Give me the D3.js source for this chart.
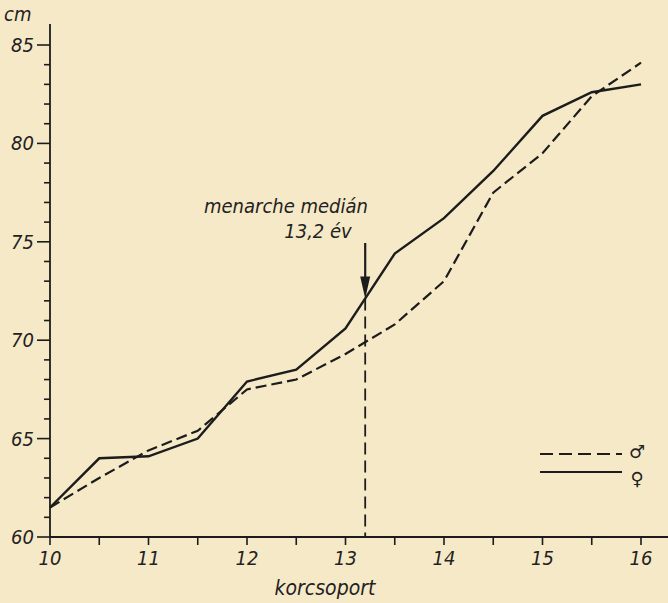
<!DOCTYPE html>
<html><head><meta charset="utf-8">
<script src="https://cdn.jsdelivr.net/npm/d3@7"></script>
<style>
html,body{margin:0;padding:0;background:#f6e9c7;}
svg{display:block;}
text{font-family:"Liberation Sans Narrow","DejaVu Sans Condensed","Liberation Sans",sans-serif;font-style:italic;fill:#222;}
</style></head>
<body>
<script>
const ages = [10,10.5,11,11.5,12,12.5,13,13.5,14,14.5,15,15.5,16];
const maleValues = [61.5,63.0,64.4,65.4,67.5,68.0,69.3,70.8,73.0,77.5,79.5,82.4,84.1];
const femaleValues = [61.5,64.0,64.1,65.0,67.9,68.5,70.6,74.4,76.2,78.6,81.4,82.6,83.0];
const xTickLabels = [10,11,12,13,14,15,16];
const yTickLabels = [60,65,70,75,80,85];
const menarcheAge = 13.2;
const menarcheText = ["menarche medián","13,2 év"];
const xTitle = "korcsoport";
const yTitle = "cm";
const legendLabels = ["♂","♀"];

const W=668,H=603;
const svg=d3.select("body").append("svg").attr("width",W).attr("height",H);
svg.append("rect").attr("width",W).attr("height",H).attr("fill","#f6e9c7");

const x=d3.scaleLinear().domain([10,16]).range([50,641]);
const y=d3.scaleLinear().domain([60,85]).range([537,45]);
const ink="#1c1c1c";

// axes lines
svg.append("line").attr("x1",x(10)).attr("x2",W).attr("y1",y(60)).attr("y2",y(60)).attr("stroke",ink).attr("stroke-width",1.8);
svg.append("line").attr("x1",x(10)).attr("x2",x(10)).attr("y1",y(60)).attr("y2",24).attr("stroke",ink).attr("stroke-width",1.8);

// y ticks
const yMinor=d3.range(60,86,1);
svg.selectAll(".ytick").data(yMinor).enter().append("line")
  .attr("x1",d=>x(10)-(d%5===0?13:6)).attr("x2",x(10))
  .attr("y1",d=>y(d)).attr("y2",d=>y(d)).attr("stroke",ink).attr("stroke-width",1.6);
svg.selectAll(".ylab").data(yTickLabels).enter().append("text")
  .attr("x",34).attr("y",d=>y(d)+7).attr("text-anchor","end")
  .attr("font-size",20).text(d=>d);
svg.append("text").attr("x",4).attr("y",21).attr("font-size",20).text(yTitle);

// x ticks
const xMinor=d3.range(10,16.01,0.5);
svg.selectAll(".xtick").data(xMinor).enter().append("line")
  .attr("x1",d=>x(d)).attr("x2",d=>x(d)).attr("y1",y(60)).attr("y2",y(60)+8)
  .attr("stroke",ink).attr("stroke-width",1.6);
svg.selectAll(".xlab").data(xTickLabels).enter().append("text")
  .attr("x",d=>x(d)).attr("y",565).attr("text-anchor","middle")
  .attr("font-size",20).text(d=>d);
svg.append("text").attr("x",325).attr("y",595).attr("text-anchor","middle").attr("font-size",21).text(xTitle);

// lines
const line=d3.line().x((d,i)=>x(ages[i])).y(d=>y(d));
svg.append("path").attr("d",line(maleValues)).attr("fill","none").attr("stroke",ink)
  .attr("stroke-width",2.2).attr("stroke-dasharray","11,5");
svg.append("path").attr("d",line(femaleValues)).attr("fill","none").attr("stroke",ink)
  .attr("stroke-width",2.4);

// menarche marker
const fAt=d3.scaleLinear().domain(ages).range(femaleValues)(menarcheAge);
svg.append("line").attr("x1",x(menarcheAge)).attr("x2",x(menarcheAge))
  .attr("y1",y(fAt)).attr("y2",y(60)).attr("stroke",ink).attr("stroke-width",1.8)
  .attr("stroke-dasharray","12,6");
const tipY=y(fAt), ax=x(menarcheAge);
svg.append("line").attr("x1",ax).attr("x2",ax).attr("y1",243).attr("y2",tipY-10)
  .attr("stroke",ink).attr("stroke-width",2.2);
svg.append("path").attr("d",`M${ax-5},${tipY-22}L${ax+5},${tipY-22}L${ax},${tipY}Z`).attr("fill",ink);
svg.append("text").attr("x",286).attr("y",213).attr("text-anchor","middle").attr("font-size",20).text(menarcheText[0]);
svg.append("text").attr("x",318).attr("y",238).attr("text-anchor","middle").attr("font-size",20).text(menarcheText[1]);

// legend
svg.append("line").attr("x1",540).attr("x2",622).attr("y1",454).attr("y2",454).attr("stroke",ink)
  .attr("stroke-width",2.2).attr("stroke-dasharray","13,6");
svg.append("line").attr("x1",540).attr("x2",622).attr("y1",472).attr("y2",472).attr("stroke",ink)
  .attr("stroke-width",2.2);
svg.append("text").attr("x",637).attr("y",451).attr("text-anchor","middle").attr("dominant-baseline","central")
  .attr("font-size",18).style("font-family","DejaVu Sans").style("font-style","normal").text(legendLabels[0]);
svg.append("text").attr("x",637).attr("y",478).attr("text-anchor","middle").attr("dominant-baseline","central")
  .attr("font-size",18).style("font-family","DejaVu Sans").style("font-style","normal").text(legendLabels[1]);
</script>
</body></html>
